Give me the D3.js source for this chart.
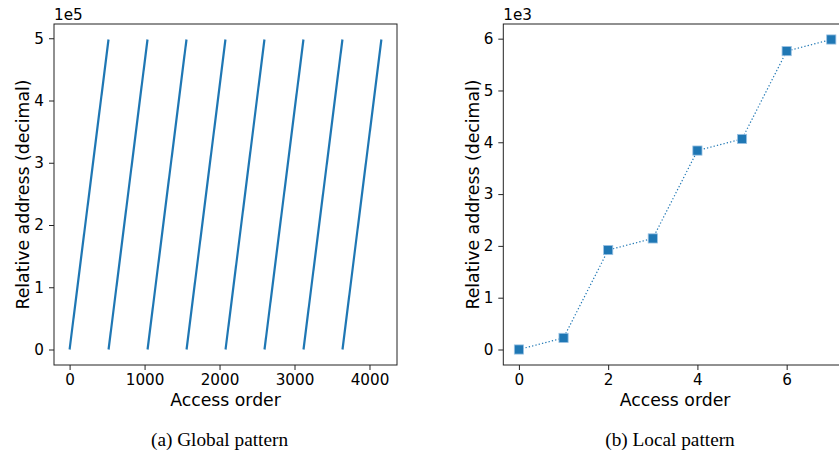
<!DOCTYPE html>
<html>
<head>
<meta charset="utf-8">
<script src="https://cdn.jsdelivr.net/npm/d3@7"></script>
<style>
  body { margin: 0; background: #fff; }
  svg { display: block; }
  .tick text { font-family: "DejaVu Sans", sans-serif; font-size: 15.2px; fill: #000; }
  .tick line { stroke: #222; }
  .domain { display: none; }
</style>
</head>
<body>
<svg width="839" height="453"></svg>
<script>
// (a) global pattern: 8 sweeps over the address range
const sweepStart = [0, 520, 1040, 1560, 2080, 2600, 3120, 3640];
const sweepEnd = [519, 1039, 1559, 2079, 2599, 3119, 3639, 4159];
const sweepAddrLow = 0;
const sweepAddrHigh = 498000;
const globalXTicks = [0, 1000, 2000, 3000, 4000];
const globalYTicks = [0, 1, 2, 3, 4, 5]; // x 1e5

// (b) local pattern
const localOrder = [0, 1, 2, 3, 4, 5, 6, 7];
const localAddr = [0, 224, 1920, 2144, 3840, 4064, 5760, 5984];
const localXTicks = [0, 2, 4, 6];
const localYTicks = [0, 1, 2, 3, 4, 5, 6]; // x 1e3

const blue = "#1f77b4";
const svg = d3.select("svg");

function panel(box, xDomain, yDomain, xTicks, yTicks, expLabel) {
    const x = d3.scaleLinear().domain(xDomain).range([box.left, box.right]);
    const y = d3.scaleLinear().domain(yDomain).range([box.bottom, box.top]);
    const g = svg.append("g");

    g.append("g")
        .attr("transform", `translate(0,${box.bottom})`)
        .call(d3.axisBottom(x).tickValues(xTicks).tickSize(5).tickPadding(4.5).tickFormat(d3.format("d")));
    g.append("g")
        .attr("transform", `translate(${box.left},0)`)
        .call(d3.axisLeft(y).tickValues(yTicks.map(t => t * box.scale)).tickSize(5).tickPadding(5)
            .tickFormat(d => d3.format("d")(d / box.scale)));

    // frame
    g.append("rect")
        .attr("x", box.left).attr("y", box.top)
        .attr("width", box.right - box.left).attr("height", box.bottom - box.top)
        .attr("fill", "none").attr("stroke", "#222").attr("stroke-width", 1);

    g.append("text")
        .attr("x", box.left).attr("y", 20)
        .attr("font-family", "DejaVu Sans").attr("font-size", 15.2).attr("fill", "#000")
        .text(expLabel);

    g.append("text")
        .attr("x", (box.left + box.right) / 2).attr("y", 406)
        .attr("text-anchor", "middle")
        .attr("font-family", "DejaVu Sans").attr("font-size", 17.3).attr("fill", "#000")
        .text("Access order");

    g.append("text")
        .attr("transform", `translate(${box.ylab},${(box.top + box.bottom) / 2}) rotate(-90)`)
        .attr("text-anchor", "middle")
        .attr("font-family", "DejaVu Sans").attr("font-size", 17.3).attr("fill", "#000")
        .text("Relative address (decimal)");

    g.append("text")
        .attr("x", box.cap).attr("y", 446)
        .attr("text-anchor", "middle")
        .attr("font-family", "Liberation Serif").attr("font-size", 19.3).attr("fill", "#000")
        .text(box.caption);

    return { x, y, g };
}

// left panel
const A = panel({ left: 54, right: 397, top: 24, bottom: 365, ylab: 28.5, cap: 219.5, scale: 1e5, caption: "(a) Global pattern" },
    [-208, 4367], [-24900, 522900], globalXTicks, globalYTicks, "1e5");

A.g.selectAll(".sweep")
    .data(sweepStart.map((s, i) => [[s, sweepAddrLow], [sweepEnd[i], sweepAddrHigh]]))
    .enter().append("path")
    .attr("class", "sweep")
    .attr("d", d3.line().x(d => A.x(d[0])).y(d => A.y(d[1])))
    .attr("stroke", blue).attr("stroke-width", 2.2).attr("fill", "none");

// right panel
const B = panel({ left: 503.3, right: 846.9, top: 24, bottom: 365, ylab: 478.5, cap: 670, scale: 1e3, caption: "(b) Local pattern" },
    [-0.35, 7.35], [-299.2, 6283.2], localXTicks, localYTicks, "1e3");

const pts = localOrder.map((o, i) => ({ o, a: localAddr[i] }));
B.g.append("path")
    .datum(pts)
    .attr("d", d3.line().x(d => B.x(d.o)).y(d => B.y(d.a)))
    .attr("stroke", blue).attr("stroke-width", 1.2).attr("stroke-dasharray", "1.3,2.1")
    .attr("fill", "none");

B.g.selectAll(".mk")
    .data(pts)
    .enter().append("rect")
    .attr("class", "mk")
    .attr("x", d => B.x(d.o) - 4.6).attr("y", d => B.y(d.a) - 4.6)
    .attr("width", 9.2).attr("height", 9.2)
    .attr("fill", blue).attr("stroke", "#9cc3e4").attr("stroke-width", 0.8);
</script>
</body>
</html>
